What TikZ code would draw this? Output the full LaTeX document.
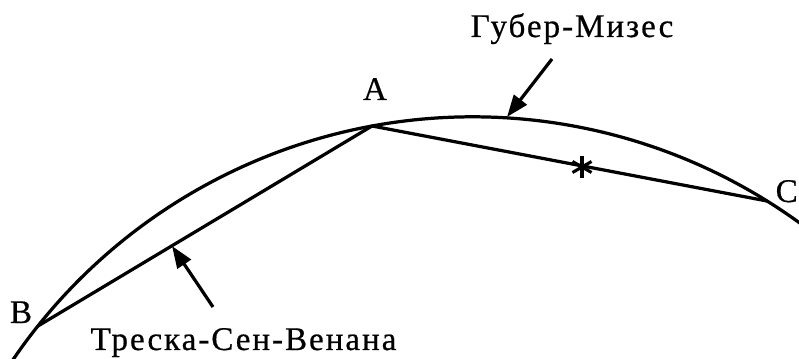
\documentclass[tikz,border=0pt]{standalone}
\usepackage{fontspec}
\setmainfont[LetterSpace=6,FakeBold=0.6]{Liberation Serif}
\usepackage{tikz}
\usetikzlibrary{arrows.meta}

\begin{document}
\begin{tikzpicture}[
    x=0.025cm, y=0.025cm,
    curve/.style={line width=2.3pt},
    arrow/.style={line width=2.3pt, -{Triangle[length=0.55cm, width=0.4cm]}},
    lbl/.style={inner sep=0pt, font=\fontsize{23.5}{28}\selectfont}
]
    \clip (0,0) rectangle (799,359);

    % yield surface (circle arc) and its chords
    \coordinate (O) at (472.7,-314.3);
    \coordinate (A) at (372,233);
    \coordinate (B) at (38,33);
    \coordinate (C) at (767,158);
    \draw[curve] (O) ++(146.5:556.5) arc[start angle=146.5, end angle=53, radius=556.5];
    \draw[curve, line join=round] (B) -- (A) -- (C);

    % asterisk on AC
    \coordinate (star) at (582,192);
    \foreach \ang in {90,30,150}
        \draw[line width=2.2pt] (star) ++(\ang:11) -- ++(\ang+180:22);

    \node[lbl, anchor=base] (la) at (375,259) {A};
    \node[lbl, anchor=base] (lb) at (21,36) {B};
    \node[lbl, anchor=base east] (lc) at (798,157) {C};

    \node[lbl, anchor=base] (huber) at (572,322) {Губер-Мизес};
    \node[lbl, anchor=base] (tresca) at (243.5,9) {Треска-Сен-Венана};

    \coordinate (hmtail) at (552,300);
    \coordinate (hmtip) at (507,242);
    \coordinate (tstail) at (213,52);
    \coordinate (tstip) at (172,113);
    \draw[arrow] (hmtail) -- (hmtip);
    \draw[arrow] (tstail) -- (tstip);
\end{tikzpicture}
\end{document}
